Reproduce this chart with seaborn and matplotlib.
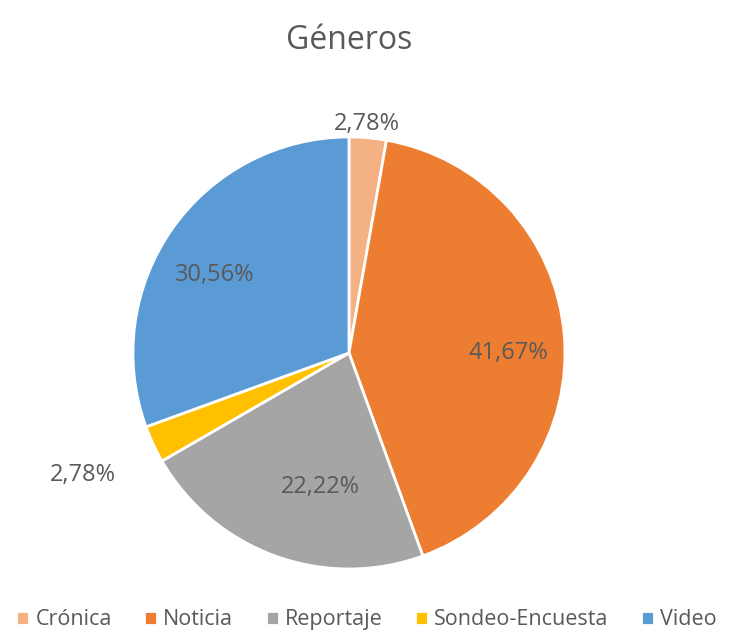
import seaborn as sns
import matplotlib.pyplot as plt

# Datos del gráfico de géneros
generos = ["Crónica", "Noticia", "Reportaje", "Sondeo-Encuesta", "Video"]
porcentajes = [2.78, 41.67, 22.22, 2.78, 30.56]
colores = ["#F4B183", "#ED7D31", "#A5A5A5", "#FFC000", "#5B9BD5"]

sns.set_theme(style="white")
plt.rcParams['font.family'] = ['Open Sans', 'DejaVu Sans']
text_color = "#595959"

fig = plt.figure(figsize=(7.33, 6.37), dpi=100)
ax = fig.add_axes([0.1814, 0.1068, 0.5894, 0.6782])

wedges, texts, autotexts = ax.pie(
    porcentajes,
    colors=colores,
    startangle=90,
    counterclock=False,
    autopct=lambda p: f"{p:.2f}%".replace(".", ","),
    pctdistance=0.72,
    wedgeprops=dict(edgecolor="white", linewidth=2),
    textprops=dict(color=text_color, fontsize=17),
)
ax.set_xlim(-1, 1)
ax.set_ylim(-1, 1)

# posiciones de las etiquetas como en Excel (radio = 1)
label_pos = [(0.085, 1.06), (0.736, 0.0), (-0.134, -0.62), (-1.231, -0.565), (-0.62, 0.361)]
for t, pos in zip(autotexts, label_pos):
    t.set_position(pos)

fig.text(0.476, 0.937, "Géneros", ha="center", va="center", fontsize=23, color=text_color)

fig.legend(wedges, generos, loc="center", bbox_to_anchor=(0.5, 0.027), ncol=5,
           frameon=False, handlelength=0.6, handleheight=0.6, handletextpad=0.3,
           columnspacing=1.5, fontsize=15.5, labelcolor=text_color)

plt.savefig("out.png", dpi=100)
